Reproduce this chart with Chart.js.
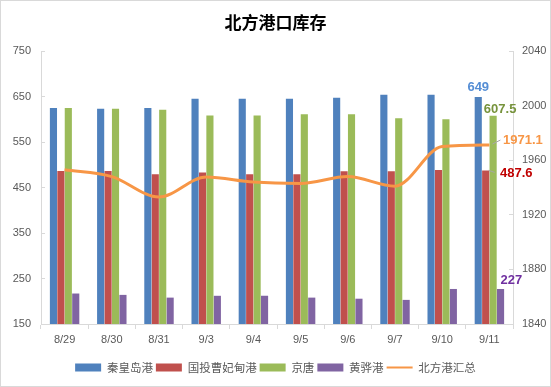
<!DOCTYPE html>
<html>
<head>
<meta charset="utf-8">
<script src="https://cdn.jsdelivr.net/npm/chart.js@4/dist/chart.umd.min.js"></script>
<style>
html,body{margin:0;padding:0;background:#fff;}
#wrap{width:551px;height:387px;position:relative;}
</style>
</head>
<body>
<div id="wrap"><canvas id="c" width="551" height="387"></canvas></div>
<script>
const categories = ['8/29','8/30','8/31','9/3','9/4','9/5','9/6','9/7','9/10','9/11'];
const qinhuangdao = [625, 623, 625, 645, 645, 645, 647, 654, 654, 649];
const caofeidian = [486, 486, 479, 483, 479, 479, 485.6, 485.6, 488.5, 487.6];
const jingtang = [625, 623, 621, 608.5, 608, 611, 611, 602, 600, 607.5];
const huanghua = [217, 214, 208, 212, 212, 208, 205.6, 203, 227, 227];
const northTotal = [1953, 1948, 1933, 1947.7, 1944, 1943, 1948, 1941, 1970, 1971.1];
const leftTicks = [150, 250, 350, 450, 550, 650, 750];
const rightTicks = [1840, 1880, 1920, 1960, 2000, 2040];

const C_BLUE = '#4F81BD', C_RED = '#C0504D', C_GREEN = '#9BBB59', C_PURPLE = '#8064A2', C_ORANGE = '#F79646';
const AXIS = '#D9D9D9', TXT = '#595959';

const lastLabels = {
  id: 'lastLabels',
  afterDraw(chart) {
    const ctx = chart.ctx;
    const n = categories.length - 1;
    const yL = chart.scales.y, yR = chart.scales.y2;
    const m0 = chart.getDatasetMeta(0).data[n];
    const m1 = chart.getDatasetMeta(1).data[n];
    const m2 = chart.getDatasetMeta(2).data[n];
    const m4 = chart.getDatasetMeta(4).data[n];
    ctx.save();
    ctx.font = 'bold 13px "Liberation Sans", Arial, sans-serif';
    ctx.textBaseline = 'middle';
    ctx.textAlign = 'center';
    ctx.fillStyle = '#558ED5';
    ctx.fillText(String(qinhuangdao[n]), m0.x, yL.getPixelForValue(qinhuangdao[n]) - 10);
    ctx.fillStyle = '#77933C';
    ctx.fillText(String(jingtang[n]), m2.x + 7, yL.getPixelForValue(jingtang[n]) - 6);
    ctx.strokeStyle = '#A6A6A6';
    ctx.lineWidth = 1;
    const yT = yR.getPixelForValue(northTotal[n]);
    ctx.beginPath(); ctx.moveTo(m4.x + 3, yT - 1); ctx.lineTo(m4.x + 11, yT - 5); ctx.stroke();
    const yRd = yL.getPixelForValue(caofeidian[n]);
    ctx.beginPath(); ctx.moveTo(m1.x + 3, yRd); ctx.lineTo(m1.x + 9, yRd + 2); ctx.stroke();
    ctx.textAlign = 'left';
    ctx.fillStyle = C_ORANGE;
    ctx.fillText(northTotal[n].toFixed(1), 503, yT - 5);
    ctx.fillStyle = '#C00000';
    ctx.fillText(caofeidian[n].toFixed(1), 500, yRd + 3);
    ctx.fillStyle = '#7030A0';
    ctx.fillText(String(huanghua[n]), 500.5, yL.getPixelForValue(huanghua[n]) - 9);
    ctx.strokeStyle = '#D9D9D9';
    ctx.strokeRect(0.5, 0.5, 550, 386);
    ctx.restore();
  }
};

new Chart(document.getElementById('c'), {
  data: {
    labels: categories,
    datasets: [
      { type: 'bar', label: '秦皇岛港', data: qinhuangdao, backgroundColor: C_BLUE, yAxisID: 'y', order: 2 },
      { type: 'bar', label: '国投曹妃甸港', data: caofeidian, backgroundColor: C_RED, yAxisID: 'y', order: 2 },
      { type: 'bar', label: '京唐', data: jingtang, backgroundColor: C_GREEN, yAxisID: 'y', order: 2 },
      { type: 'bar', label: '黄骅港', data: huanghua, backgroundColor: C_PURPLE, yAxisID: 'y', order: 2 },
      { type: 'line', label: '北方港汇总', data: northTotal, borderColor: C_ORANGE, backgroundColor: C_ORANGE,
        borderWidth: 3, pointRadius: 0, cubicInterpolationMode: 'monotone', yAxisID: 'y2', order: 1 }
    ]
  },
  options: {
    responsive: false,
    animation: false,
    devicePixelRatio: 1,
    layout: { padding: { left: 0, right: 0, top: 0, bottom: 3.75 } },
    datasets: { bar: { categoryPercentage: 0.63, barPercentage: 0.96 } },
    plugins: {
      title: {
        display: true, text: '北方港口库存', color: '#000',
        font: { family: '"Noto Sans CJK SC", sans-serif', size: 17, weight: 'bold', lineHeight: 1.2 },
        padding: { top: 12.8, bottom: 17.8 }
      },
      legend: {
        position: 'bottom',
        labels: {
          usePointStyle: true, pointStyleWidth: 26, boxHeight: 8, padding: 3,
          color: TXT, font: { family: '"Noto Sans CJK SC", sans-serif', size: 11.5 },
          generateLabels(chart) {
            const items = Chart.defaults.plugins.legend.labels.generateLabels(chart);
            items.sort((a, b) => a.datasetIndex - b.datasetIndex);
            items.forEach(it => {
              const ds = chart.data.datasets[it.datasetIndex];
              if (ds.type === 'line') {
                it.pointStyle = 'line'; it.lineWidth = 2; it.strokeStyle = C_ORANGE; it.fillStyle = C_ORANGE;
              } else {
                it.pointStyle = 'rect'; it.lineWidth = 0; it.fillStyle = ds.backgroundColor; it.strokeStyle = ds.backgroundColor;
              }
            });
            return items;
          }
        }
      },
      tooltip: { enabled: false }
    },
    scales: {
      x: {
        grid: { display: true, drawOnChartArea: false, color: AXIS, tickLength: 5, offset: true },
        border: { color: AXIS },
        ticks: { color: TXT, font: { family: '"Liberation Sans", Arial, sans-serif', size: 11 }, padding: 4, maxRotation: 0 },
        afterFit(s) { s.height = 34.75; }
      },
      y: {
        position: 'left', min: 150, max: 750,
        afterBuildTicks(s) { s.ticks = leftTicks.map(v => ({ value: v })); },
        grid: { display: true, drawOnChartArea: false, color: AXIS, tickLength: -4 },
        border: { color: AXIS },
        ticks: { color: TXT, font: { family: '"Liberation Sans", Arial, sans-serif', size: 11 }, padding: 14,
                 callback: v => String(v) },
        afterFit(s) { s.width = 41; }
      },
      y2: {
        position: 'right', min: 1840, max: 2040,
        afterBuildTicks(s) { s.ticks = rightTicks.map(v => ({ value: v })); },
        grid: { display: true, drawOnChartArea: false, color: AXIS, tickLength: -4 },
        border: { color: AXIS },
        ticks: { color: TXT, font: { family: '"Liberation Sans", Arial, sans-serif', size: 11 }, padding: 13,
                 callback: v => String(v) },
        afterFit(s) { s.width = 38; }
      }
    }
  },
  plugins: [lastLabels]
});
</script>
</body>
</html>
